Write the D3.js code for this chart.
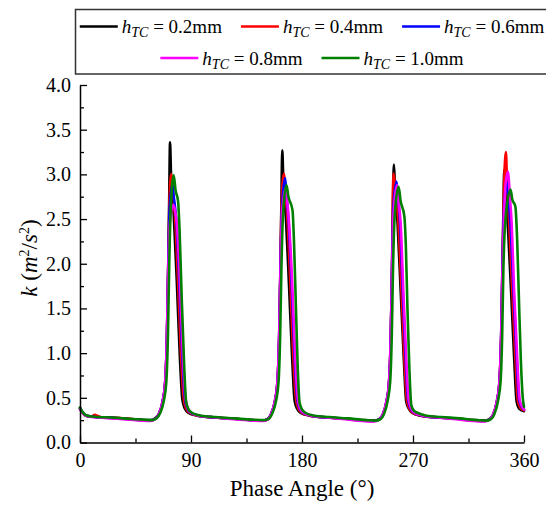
<!DOCTYPE html>
<html><head><meta charset="utf-8">
<script src="https://cdn.jsdelivr.net/npm/d3@7"></script>
<style>body{margin:0;background:#fff} svg{display:block}</style>
</head><body>
<svg id="c" width="546" height="505"></svg>
<script>
const seriesLabels = ["0.2mm","0.4mm","0.6mm","0.8mm","1.0mm"];
const seriesColors = ["#000000","#ff0000","#0000ff","#ff00ff","#008000"];
const xTicks = [0,90,180,270,360];
const xMinor = [45,135,225,315];
const yTicks = [0,0.5,1,1.5,2,2.5,3,3.5,4];
const yMinor = [0.25,0.75,1.25,1.75,2.25,2.75,3.25,3.75];

const h02 = [[0,0.39],[2,0.34],[5,0.30],[10,0.29],[15,0.285],[25,0.28],[35,0.27],[45,0.26],
[57,0.25],[61,0.27],[64,0.32],[67,0.45],[69,0.65],[70.5,1.15],[71.5,1.9],[72.3,2.7],[73,3.36],[73.8,3.0],[76,2.55],[78.5,1.8],[81,0.95],[83,0.48],[85,0.38],[88,0.33],[95,0.30],[108,0.28],[123,0.27],[138,0.25],
[148,0.245],[152,0.26],[155,0.32],[158,0.45],[160,0.65],[161.5,1.15],[162.5,1.9],[163.3,2.7],[164,3.27],[164.8,2.95],[167,2.5],[169.5,1.75],[172,0.95],[174,0.47],[176,0.38],[179,0.33],[186,0.30],[199,0.28],[214,0.27],[229,0.25],
[238.5,0.245],[242.5,0.26],[245.5,0.31],[248.5,0.45],[250.5,0.65],[252,1.15],[253,1.9],[253.8,2.7],[254.5,3.11],[255.3,2.9],[257.5,2.45],[260,1.7],[262.5,0.95],[264.5,0.46],[266.5,0.38],[269.5,0.33],[276,0.30],[289,0.28],[304,0.27],[319,0.25],
[328,0.245],[332,0.26],[335,0.31],[338,0.45],[340,0.65],[341.5,1.15],[342.5,1.9],[343.3,2.6],[344,3.05],[344.8,2.85],[347,2.4],[349.5,1.7],[352,0.95],[354,0.46],[356,0.38],[360,0.35]];

const h04 = [[0,0.38],[2,0.33],[5,0.30],[9,0.29],[12,0.31],[14,0.30],[18,0.28],[28,0.275],[40,0.265],[50,0.25],
[57,0.245],[61,0.265],[64,0.32],[67,0.46],[69,0.66],[70.5,1.2],[71.5,1.95],[72.5,2.7],[74,3.0],[75,2.85],[77,2.55],[79.5,1.8],[82,0.95],[84,0.5],[86,0.38],[89,0.33],[96,0.30],[110,0.28],[125,0.265],[140,0.25],
[148,0.245],[152,0.26],[155,0.32],[158,0.46],[160,0.66],[161.5,1.2],[162.5,1.95],[163.5,2.7],[165.5,3.01],[166.5,2.8],[168,2.55],[170.5,1.8],[173,0.95],[175,0.5],[177,0.38],[180,0.33],[187,0.30],[200,0.28],[215,0.265],[230,0.245],
[238.5,0.24],[242.5,0.26],[245.5,0.31],[248.5,0.46],[250.5,0.66],[252,1.2],[253,1.95],[253.6,2.7],[254.3,3.01],[255.5,2.85],[258,2.5],[260.5,1.75],[263,0.95],[265,0.48],[267,0.38],[270,0.33],[277,0.30],[290,0.28],[305,0.265],[320,0.245],
[328,0.24],[332,0.26],[335,0.31],[338,0.46],[340,0.66],[341.5,1.2],[342.5,1.95],[343.7,2.8],[345.3,3.25],[346.2,2.95],[348,2.45],[350.5,1.7],[353,0.95],[355,0.47],[357,0.39],[360,0.36]];

const h06 = [[0,0.38],[2,0.335],[5,0.30],[10,0.29],[15,0.28],[25,0.275],[35,0.265],[45,0.255],
[57,0.245],[61,0.265],[64,0.32],[67,0.46],[69,0.66],[70.5,1.2],[71.5,1.95],[72.6,2.6],[74.8,2.89],[76,2.75],[78,2.5],[80.5,1.8],[83,0.95],[85,0.5],[87,0.38],[90,0.33],[97,0.30],[110,0.28],[125,0.265],[140,0.25],
[148,0.245],[152,0.26],[155,0.32],[158,0.46],[160,0.66],[161.5,1.2],[162.5,1.95],[163.7,2.6],[166.3,2.96],[167.5,2.75],[169,2.5],[171.5,1.8],[174,0.95],[176,0.5],[178,0.38],[181,0.33],[188,0.30],[200,0.28],[215,0.265],[230,0.245],
[238.5,0.24],[242.5,0.26],[245.5,0.31],[248.5,0.46],[250.5,0.66],[252,1.2],[253,1.95],[254,2.6],[256.6,2.92],[257.8,2.75],[259.5,2.45],[261.5,1.75],[264,0.95],[266,0.48],[268,0.38],[271,0.33],[278,0.30],[290,0.28],[305,0.265],[320,0.245],
[328,0.24],[332,0.26],[335,0.31],[338,0.46],[340,0.66],[341.5,1.2],[342.5,1.95],[343.8,2.6],[346,2.92],[347.3,2.75],[349,2.45],[351.5,1.7],[354,0.95],[356,0.48],[358,0.4],[360,0.37]];

const h08 = [[0,0.37],[2,0.33],[5,0.30],[10,0.285],[15,0.28],[25,0.27],[35,0.26],[45,0.25],[50,0.245],
[57,0.24],[61,0.26],[64,0.32],[67,0.46],[69,0.66],[70.5,1.2],[71.5,1.9],[72.8,2.45],[75.5,2.66],[77,2.6],[78.5,2.45],[81,1.8],[83.5,0.95],[85.5,0.5],[87.5,0.38],[90.5,0.33],[97,0.30],[110,0.28],[125,0.26],[140,0.245],
[148,0.24],[152,0.255],[155,0.32],[158,0.46],[160,0.66],[161.5,1.2],[162.5,1.9],[163.8,2.55],[166.8,2.85],[168,2.7],[169.5,2.45],[172,1.8],[174.5,0.95],[176.5,0.5],[178.5,0.38],[181.5,0.33],[188,0.30],[200,0.28],[215,0.26],[230,0.24],
[238.5,0.235],[242.5,0.255],[245.5,0.31],[248.5,0.46],[250.5,0.66],[252,1.2],[253,1.9],[254.2,2.55],[257,2.88],[258.2,2.7],[260,2.45],[262,1.75],[264.5,0.95],[266.5,0.48],[268.5,0.38],[271.5,0.33],[278,0.30],[290,0.28],[305,0.26],[320,0.24],
[328,0.235],[332,0.255],[335,0.31],[338,0.46],[340,0.66],[341.5,1.2],[342.5,1.9],[344,2.6],[345.5,2.95],[347.2,3.03],[348.3,2.8],[350,2.45],[352,1.7],[354.5,0.95],[356.5,0.48],[358.5,0.4],[360,0.37]];

const h10 = [[0,0.39],[2,0.34],[5,0.305],[10,0.29],[15,0.285],[25,0.28],[35,0.27],[45,0.26],[52,0.255],
[58,0.25],[62,0.27],[65,0.33],[68,0.47],[70,0.68],[71.3,1.2],[72.3,1.95],[73.5,2.6],[76,2.99],[77.5,2.82],[79.5,2.7],[80.8,2.35],[82.5,1.6],[84.5,0.85],[86,0.46],[88,0.37],[91,0.33],[98,0.30],[110,0.285],[125,0.27],[140,0.255],
[149,0.25],[153,0.265],[156,0.33],[159,0.47],[161,0.68],[162.3,1.2],[163.3,1.95],[164.6,2.55],[167.4,2.88],[169,2.75],[172.3,2.6],[173.5,2.25],[175,1.55],[176.5,0.85],[178,0.45],[180,0.37],[183,0.33],[190,0.30],[202,0.285],[217,0.27],[232,0.25],
[239.5,0.245],[243.5,0.26],[246.5,0.32],[249.5,0.47],[251.5,0.68],[252.8,1.2],[253.8,1.95],[255.2,2.55],[258.3,2.86],[260,2.7],[263,2.53],[264.2,2.2],[265.5,1.5],[267,0.85],[268.6,0.42],[270.5,0.36],[274,0.33],[281,0.30],[293,0.285],[308,0.27],[322,0.25],
[329,0.245],[333,0.26],[336,0.32],[339,0.47],[341,0.68],[342.3,1.2],[343.3,1.95],[345,2.5],[349.1,2.83],[350.5,2.72],[353,2.64],[354.5,2.25],[356,1.55],[357.5,0.9],[359,0.5],[360,0.4]];

const allSeries = [h02,h04,h06,h08,h10];

const FONT = "'Liberation Serif', 'DejaVu Serif', serif";
const svg = d3.select("#c").style("font-family", FONT);
const x = d3.scaleLinear([0,360],[80,524]);
const y = d3.scaleLinear([0,4],[442.5,85]);

// lines
const line = d3.line().x(d=>x(d[0])).y(d=>y(d[1])).curve(d3.curveMonotoneX);
svg.append("g").selectAll("path").data(allSeries).join("path")
  .attr("d", line).attr("fill","none")
  .attr("stroke",(d,i)=>seriesColors[i]).attr("stroke-width",2.6)
  .attr("stroke-linejoin","round").attr("stroke-linecap","round");

// axes
function styleAxis(g){
  g.select(".domain").attr("stroke","#000").attr("stroke-width",1.5);
  g.selectAll(".tick line").attr("stroke","#000").attr("stroke-width",1.3);
  g.selectAll(".tick text").attr("font-family",FONT).attr("font-size",20).attr("fill","#000");
}
const gx = svg.append("g").attr("transform",`translate(0,${y(0)})`)
  .call(d3.axisBottom(x).tickValues(xTicks).tickFormat(d3.format("d")).tickSizeInner(-7).tickSizeOuter(0).tickPadding(10));
styleAxis(gx);
const gxm = svg.append("g").attr("transform",`translate(0,${y(0)})`)
  .call(d3.axisBottom(x).tickValues(xMinor).tickFormat("").tickSizeInner(-4).tickSizeOuter(0));
styleAxis(gxm); gxm.select(".domain").remove();

const gy = svg.append("g").attr("transform",`translate(${x(0)},0)`)
  .call(d3.axisLeft(y).tickValues(yTicks).tickFormat(d3.format(".1f")).tickSizeInner(-7).tickSizeOuter(0).tickPadding(9));
styleAxis(gy);
const gym = svg.append("g").attr("transform",`translate(${x(0)},0)`)
  .call(d3.axisLeft(y).tickValues(yMinor).tickFormat("").tickSizeInner(-4).tickSizeOuter(0));
styleAxis(gym); gym.select(".domain").remove();

// axis titles
svg.append("text").attr("x",(x(0)+x(360))/2).attr("y",496).attr("text-anchor","middle")
  .attr("font-size",23).text("Phase Angle (°)");

const yl = svg.append("text").attr("transform","translate(37,258) rotate(-90)")
  .attr("text-anchor","middle").attr("font-size",23);
yl.append("tspan").attr("font-style","italic").text("k");
yl.append("tspan").text(" (");
yl.append("tspan").attr("font-style","italic").text("m");
yl.append("tspan").attr("font-size",14).attr("dy",-8).text("2");
yl.append("tspan").attr("dy",8).text("/");
yl.append("tspan").attr("font-style","italic").text("s");
yl.append("tspan").attr("font-size",14).attr("dy",-8).text("2");
yl.append("tspan").attr("dy",8).text(")");

// legend
const lg = svg.append("g");
lg.append("rect").attr("x",75.5).attr("y",9.5).attr("width",480).attr("height",64.5)
  .attr("fill","#fff").attr("stroke","#333").attr("stroke-width",1.5);
const rows = [[0,1,2],[3,4]];
const rowY = [26.5, 58];
const lineLen = 38, gapText = 4, gapItem = 19, centerX = 312;
rows.forEach((idxs, r) => {
  const items = idxs.map(i => {
    const g = lg.append("g");
    g.append("line").attr("x1",0).attr("x2",lineLen).attr("y1",0).attr("y2",0)
      .attr("stroke",seriesColors[i]).attr("stroke-width",2.6);
    const t = g.append("text").attr("x",lineLen+gapText).attr("y",6.5).attr("font-size",19);
    t.append("tspan").attr("font-style","italic").text("h");
    t.append("tspan").attr("font-style","italic").attr("font-size",14).attr("dy",4).text("TC");
    t.append("tspan").attr("dy",-4).text(" = " + seriesLabels[i]);
    const w = lineLen + gapText + t.node().getComputedTextLength();
    return {g, w};
  });
  const total = d3.sum(items, d=>d.w) + gapItem*(items.length-1);
  let cx = centerX - total/2;
  items.forEach(it => { it.g.attr("transform",`translate(${cx},${rowY[r]})`); cx += it.w + gapItem; });
});
</script>
</body></html>
